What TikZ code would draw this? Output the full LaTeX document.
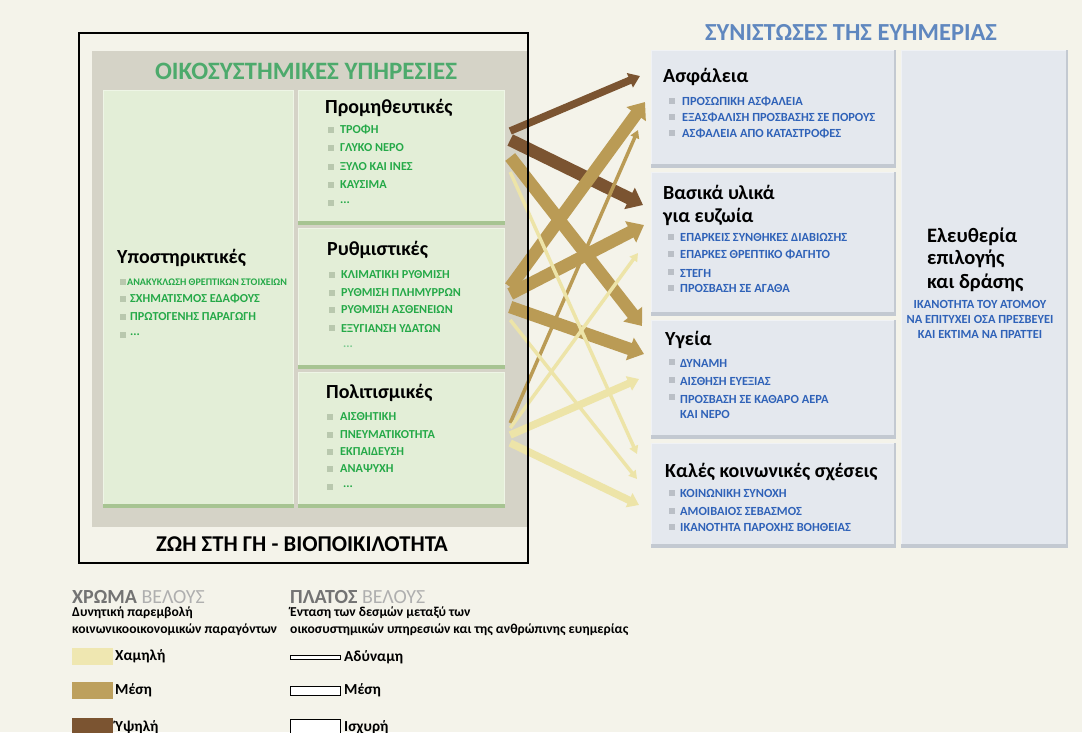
\documentclass[tikz,border=0pt]{standalone}
\usepackage{fontspec}
\setmainfont{Carlito}
\usetikzlibrary{arrows.meta}
\definecolor{bg}{HTML}{F4F3EA}
\definecolor{panel}{HTML}{D5D3C7}
\definecolor{gfill}{HTML}{E3EED7}
\definecolor{gedge}{HTML}{A7C492}
\definecolor{glight}{HTML}{EEF5E6}
\definecolor{titlegreen}{HTML}{4DAA6C}
\definecolor{itemgreen}{HTML}{25A948}
\definecolor{bulg}{HTML}{B9C8AE}
\definecolor{bfill}{HTML}{E4E8EE}
\definecolor{bedge}{HTML}{C3C9D1}
\definecolor{blight}{HTML}{F0F2F5}
\definecolor{titleblue}{HTML}{5F87BF}
\definecolor{itemblue}{HTML}{2F62B8}
\definecolor{bulb}{HTML}{BABFC6}
\definecolor{darkar}{HTML}{7B5431}
\definecolor{tanar}{HTML}{BA9B55}
\definecolor{lightar}{HTML}{EDE4A8}
\definecolor{leggray}{HTML}{737373}
\definecolor{leglight}{HTML}{AFAFAF}
\tikzset{
  gbox/.style={draw=glight, line width=1.2pt, fill=gfill, inner sep=0, anchor=north west},
  bbox/.style={draw=blight, line width=1.2pt, fill=bfill, inner sep=0, anchor=north west},
  bigtitle/.style={font=\fontsize{25}{25}\selectfont\bfseries, inner sep=0},
  cat/.style={anchor=west, font=\fontsize{20}{20}\selectfont\bfseries, inner sep=0},
  gitem/.style={anchor=west, font=\fontsize{12.2}{12.2}\selectfont\bfseries, text=itemgreen, inner sep=0},
  bitem/.style={anchor=west, font=\fontsize{12.4}{12.4}\selectfont\bfseries, text=itemblue, inner sep=0},
  legtext/.style={anchor=west, font=\fontsize{13.6}{13.6}\selectfont\bfseries, inner sep=0},
  leglab/.style={anchor=west, font=\fontsize{15.3}{15.3}\selectfont\bfseries, inner sep=0},
  weak/.style={line width=3.5pt, -{Triangle[width=9pt,length=8pt]}},
  medium/.style={line width=7.5pt, -{Triangle[width=15pt,length=11pt]}},
  strong/.style={line width=12.5pt, -{Triangle[width=23pt,length=15pt]}},
}
\newcommand{\gbul}[2]{\fill[bulg] (#1,#2-2.8) rectangle (#1+5.5,#2+2.8);}
\newcommand{\bbul}[2]{\fill[bulb] (#1,#2-2.8) rectangle (#1+5.5,#2+2.8);}
\begin{document}
\begin{tikzpicture}[x=1pt,y=-1pt]
\useasboundingbox (0,0) rectangle (1082,732);
\clip (0,0) rectangle (1082,732);
\fill[bg] (0,0) rectangle (1082,732);

% ---------- left panel ----------
\fill[panel] (92,51) rectangle (527,527);
\node[bigtitle, text=titlegreen] (es) at (306,71) {ΟΙΚΟΣΥΣΤΗΜΙΚΕΣ ΥΠΗΡΕΣΙΕΣ};

\node[gbox, minimum width=190pt, minimum height=417pt] (supp) at (103,90) {};
\node[gbox, minimum width=206pt, minimum height=134pt] (prov) at (298,90) {};
\node[gbox, minimum width=206pt, minimum height=140pt] (reg) at (298,228) {};
\node[gbox, minimum width=206pt, minimum height=135pt] (cult) at (298,372) {};
\foreach \b in {supp,prov,reg,cult}{
  \fill[gedge] ([yshift=4pt]\b.south west) rectangle (\b.south east);
}

% Υποστηρικτικές
\node[cat] (suppt) at (117,258) {Υποστηρικτικές};
\gbul{120}{282}\node[anchor=west, font=\fontsize{10.1}{10.1}\selectfont\bfseries, text=itemgreen, inner sep=0] (s1) at (127,282) {ΑΝΑΚΥΚΛΩΣΗ ΘΡΕΠΤΙΚΩΝ ΣΤΟΙΧΕΙΩΝ};
\gbul{120}{299}\node[gitem] (s2) at (130,299) {ΣΧΗΜΑΤΙΣΜΟΣ ΕΔΑΦΟΥΣ};
\gbul{120}{317}\node[gitem] (s3) at (130,317) {ΠΡΩΤΟΓΕΝΗΣ ΠΑΡΑΓΩΓΗ};
\gbul{120}{335}\node[gitem] (s4) at (130,335) {...};

% Προμηθευτικές
\node[cat] (provt) at (325,108) {Προμηθευτικές};
\gbul{328}{130}\node[gitem] (p1) at (340,130) {ΤΡΟΦΗ};
\gbul{328}{148}\node[gitem] (p2) at (340,148) {ΓΛΥΚΟ ΝΕΡΟ};
\gbul{328}{167}\node[gitem] (p3) at (340,167) {ΞΥΛΟ ΚΑΙ ΙΝΕΣ};
\gbul{328}{185}\node[gitem] (p4) at (340,185) {ΚΑΥΣΙΜΑ};
\gbul{328}{203}\node[gitem] (p5) at (340,203) {...};

% Ρυθμιστικές
\node[cat] (regt) at (327,250) {Ρυθμιστικές};
\gbul{329}{275}\node[gitem] (r1) at (341,275) {ΚΛΙΜΑΤΙΚΗ ΡΥΘΜΙΣΗ};
\gbul{329}{293}\node[gitem] (r2) at (341,293) {ΡΥΘΜΙΣΗ ΠΛΗΜΥΡΡΩΝ};
\gbul{329}{310}\node[gitem] (r3) at (341,310) {ΡΥΘΜΙΣΗ ΑΣΘΕΝΕΙΩΝ};
\gbul{329}{328}\node[gitem] (r4) at (341,328) {ΕΞΥΓΙΑΝΣΗ ΥΔΑΤΩΝ};
\node[gitem, text=itemgreen!60] (r5) at (343,347) {...};

% Πολιτισμικές
\node[cat] (cultt) at (326,393) {Πολιτισμικές};
\gbul{327}{417}\node[gitem] (c1) at (340,417) {ΑΙΣΘΗΤΙΚΗ};
\gbul{327}{435}\node[gitem] (c2) at (340,435) {ΠΝΕΥΜΑΤΙΚΟΤΗΤΑ};
\gbul{327}{452}\node[gitem] (c3) at (340,452) {ΕΚΠΑΙΔΕΥΣΗ};
\gbul{327}{469}\node[gitem] (c4) at (340,469) {ΑΝΑΨΥΧΗ};
\gbul{327}{487}\node[gitem] (c5) at (343,487) {...};

\node[bigtitle, font=\fontsize{22.6}{22.6}\selectfont\bfseries] (life) at (302,544) {ΖΩΗ ΣΤΗ ΓΗ - ΒΙΟΠΟΙΚΙΛΟΤΗΤΑ};

% ---------- right panel ----------
\node[bigtitle, font=\fontsize{24.5}{24.5}\selectfont\bfseries, text=titleblue] (wb) at (851,32) {ΣΥΝΙΣΤΩΣΕΣ ΤΗΣ ΕΥΗΜΕΡΙΑΣ};
\node[bbox, minimum width=244pt, minimum height=117pt] (asf) at (651,50) {};
\node[bbox, minimum width=244pt, minimum height=143pt] (bas) at (651,172) {};
\node[bbox, minimum width=244pt, minimum height=118pt] (yge) at (651,320) {};
\node[bbox, minimum width=244pt, minimum height=104pt] (kal) at (651,443) {};
\node[bbox, minimum width=166pt, minimum height=497pt] (ele) at (901,50) {};
\foreach \b in {asf,bas,yge,kal,ele}{
  \fill[bedge] ([yshift=4pt]\b.south west) rectangle (\b.south east);
  \fill[bedge] ([xshift=-2pt]\b.north east) rectangle (\b.south east);
}

\node[cat] (asft) at (663,77) {Ασφάλεια};
\bbul{669}{101}\node[bitem] (a1) at (682,101) {ΠΡΟΣΩΠΙΚΗ ΑΣΦΑΛΕΙΑ};
\bbul{669}{117}\node[bitem] (a2) at (682,117) {ΕΞΑΣΦΑΛΙΣΗ ΠΡΟΣΒΑΣΗΣ ΣΕ ΠΟΡΟΥΣ};
\bbul{669}{133}\node[bitem] (a3) at (682,133) {ΑΣΦΑΛΕΙΑ ΑΠΟ ΚΑΤΑΣΤΡΟΦΕΣ};

\node[cat] (bast1) at (663,192) {Βασικά υλικά};
\node[cat] (bast2) at (663,217) {για ευζωία};
\bbul{668}{237}\node[bitem] (b1) at (680,237) {ΕΠΑΡΚΕΙΣ ΣΥΝΘΗΚΕΣ ΔΙΑΒΙΩΣΗΣ};
\bbul{668}{254}\node[bitem] (b2) at (680,254) {ΕΠΑΡΚΕΣ ΘΡΕΠΤΙΚΟ ΦΑΓΗΤΟ};
\bbul{668}{272}\node[bitem] (b3) at (680,273) {ΣΤΕΓΗ};
\bbul{668}{288}\node[bitem] (b4) at (680,288) {ΠΡΟΣΒΑΣΗ ΣΕ ΑΓΑΘΑ};

\node[cat] (yget) at (665,340) {Υγεία};
\bbul{669}{362}\node[bitem] (h1) at (680,363) {ΔΥΝΑΜΗ};
\bbul{669}{380}\node[bitem] (h2) at (680,381) {ΑΙΣΘΗΣΗ ΕΥΕΞΙΑΣ};
\bbul{669}{397}\node[bitem] (h3) at (680,399) {ΠΡΟΣΒΑΣΗ ΣΕ ΚΑΘΑΡΟ ΑΕΡΑ};
\node[bitem] (h4) at (680,414) {ΚΑΙ ΝΕΡΟ};

\node[cat] (kalt) at (665,472) {Καλές κοινωνικές σχέσεις};
\bbul{669}{493}\node[bitem] (k1) at (680,493) {ΚΟΙΝΩΝΙΚΗ ΣΥΝΟΧΗ};
\bbul{669}{511}\node[bitem] (k2) at (680,511) {ΑΜΟΙΒΑΙΟΣ ΣΕΒΑΣΜΟΣ};
\bbul{669}{527}\node[bitem] (k3) at (680,527) {ΙΚΑΝΟΤΗΤΑ ΠΑΡΟΧΗΣ ΒΟΗΘΕΙΑΣ};

\node[cat, font=\fontsize{20.5}{20.5}\selectfont\bfseries] (elet1) at (927,237) {Ελευθερία};
\node[cat, font=\fontsize{20.5}{20.5}\selectfont\bfseries] (elet2) at (927,259) {επιλογής};
\node[cat, font=\fontsize{20.5}{20.5}\selectfont\bfseries] (elet3) at (927,283) {και δράσης};
\node[bitem, anchor=center] (e1) at (980,304) {ΙΚΑΝΟΤΗΤΑ ΤΟΥ ΑΤΟΜΟΥ};
\node[bitem, anchor=center] (e2) at (980,319) {ΝΑ ΕΠΙΤΥΧΕΙ ΟΣΑ ΠΡΕΣΒΕΥΕΙ};
\node[bitem, anchor=center] (e3) at (980,334) {ΚΑΙ ΕΚΤΙΜΑ ΝΑ ΠΡΑΤΤΕΙ};

% ---------- arrows ----------
\coordinate (t1) at (prov.east |- 0,131);
\coordinate (t2) at (prov.east |- 0,140);
\coordinate (t7) at (prov.east |- 0,157);
\coordinate (t10) at (prov.east |- 0,172);
\coordinate (t4) at (reg.east |- 0,287);
\coordinate (t5) at (reg.east |- 0,294);
\coordinate (t8) at (reg.east |- 0,307);
\coordinate (t11) at (reg.east |- 0,320);
\coordinate (t3) at (cult.east |- 0,423);
\coordinate (t6) at (cult.east |- 0,428);
\coordinate (t9) at (cult.east |- 0,435);
\coordinate (t12) at (cult.east |- 0,443);
\coordinate (h1a) at (asf.west |- 0,76);
\coordinate (h4a) at (asf.west |- 0,102);
\coordinate (h3a) at (asf.west |- 0,130);
\coordinate (h2a) at (bas.west |- 0,205);
\coordinate (h5a) at (bas.west |- 0,225);
\coordinate (h6a) at (bas.west |- 0,253);
\coordinate (h7a) at (yge.west |- 0,326);
\coordinate (h8a) at (yge.west |- 0,354);
\coordinate (h9a) at (yge.west |- 0,379);
\coordinate (h10a) at (kal.west |- 0,454);
\coordinate (h11a) at (kal.west |- 0,479);
\coordinate (h12a) at (kal.west |- 0,505);

\draw[darkar, medium] ([xshift=5pt]t1) -- ([xshift=-11pt]h1a);
\draw[darkar, strong] ([xshift=5pt]t2) -- ([xshift=-8pt]h2a);
\draw[tanar, strong] ([xshift=5pt]t7) -- ([xshift=-9pt]h7a);
\draw[tanar, strong] ([xshift=5pt]t4) -- ([xshift=-6pt]h4a);
\draw[tanar, strong] ([xshift=5pt]t5) -- ([xshift=-7pt]h5a);
\draw[tanar, strong] ([xshift=5pt]t8) -- ([xshift=-7pt]h8a);
\draw[tanar, weak] ([xshift=5pt]t3) -- ([xshift=-13pt]h3a);
\draw[lightar, weak] ([xshift=5pt]t6) -- ([xshift=-13pt]h6a);
\draw[lightar, medium] ([xshift=5pt]t9) -- ([xshift=-12pt]h9a);
\draw[lightar, weak] ([xshift=5pt]t10) -- ([xshift=-14pt]h10a);
\draw[lightar, weak] ([xshift=5pt]t11) -- ([xshift=-14pt]h11a);
\draw[lightar, medium] ([xshift=5pt]t12) -- ([xshift=-12pt]h12a);

% frame on top of the arrows
\draw[line width=2pt] (79,33) rectangle (528,563);

% ---------- legend ----------
\node[leglab, font=\fontsize{20}{20}\selectfont\bfseries] (lc) at (72,597) {\textcolor{leggray}{ΧΡΩΜΑ} \textcolor{leglight}{\mdseries ΒΕΛΟΥΣ}};
\node[legtext] (lc1) at (72,613) {Δυνητική παρεμβολή};
\node[legtext] (lc2) at (72,630) {κοινωνικοοικονομικών παραγόντων};
\node[anchor=north west, fill=lightar!90!white, minimum width=41pt, minimum height=17pt, inner sep=0] (sw1) at (72,648) {};
\node[anchor=north west, fill=tanar!95!white, minimum width=41pt, minimum height=17pt, inner sep=0] (sw2) at (72,682) {};
\node[anchor=north west, fill=darkar, minimum width=41pt, minimum height=17pt, inner sep=0] (sw3) at (72,718) {};
\node[leglab] (l1) at (115,656) {Χαμηλή};
\node[leglab] (l2) at (115,690) {Μέση};
\node[leglab] (l3) at (115,727) {Ύψηλή};

\node[leglab, font=\fontsize{20}{20}\selectfont\bfseries] (lw) at (290,597) {\textcolor{leggray}{ΠΛΑΤΟΣ} \textcolor{leglight}{\mdseries ΒΕΛΟΥΣ}};
\node[legtext] (lw1) at (290,613) {Ένταση των δεσμών μεταξύ των};
\node[legtext] (lw2) at (290,630) {οικοσυστημικών υπηρεσιών και της ανθρώπινης ευημερίας};
\draw[line width=0.9pt, fill=white] (290,655.5) rectangle (340,659);
\draw[line width=0.9pt, fill=white] (290,686) rectangle (340,695);
\draw[line width=0.9pt, fill=white] (290,719) rectangle (340,740);
\node[leglab] (w1) at (344,657) {Αδύναμη};
\node[leglab] (w2) at (344,690) {Μέση};
\node[leglab] (w3) at (344,727) {Ισχυρή};
\end{tikzpicture}
\end{document}
